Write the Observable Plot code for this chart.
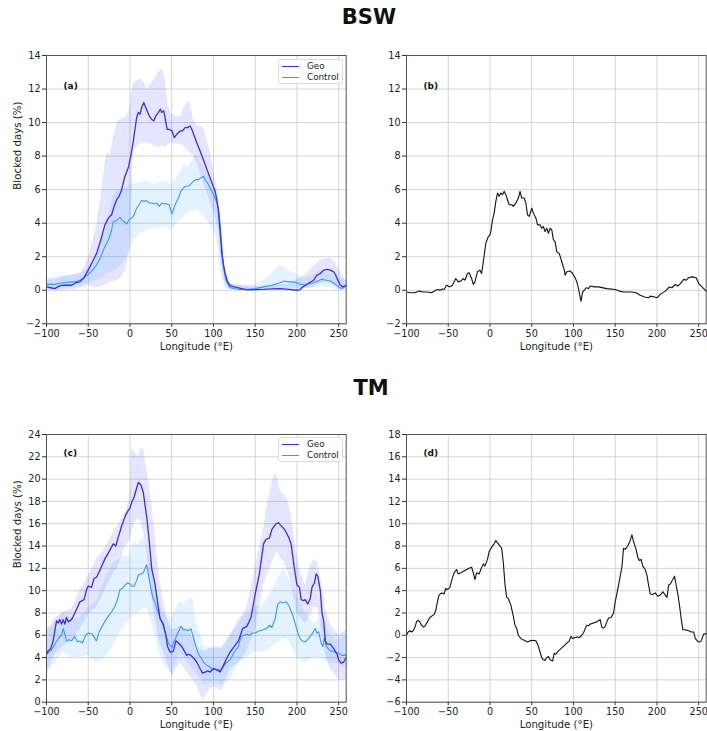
<!DOCTYPE html>
<html>
<head>
<meta charset="utf-8">
<script src="https://cdn.jsdelivr.net/npm/d3@7"></script>
<script src="https://cdn.jsdelivr.net/npm/@observablehq/plot@0.6"></script>
<style>
  body { margin: 0; background: #fff; font-family: "DejaVu Sans", sans-serif; }
  #wrap { position: relative; width: 707px; height: 731px; overflow: hidden; }
  .panel { position: absolute; }
  .title { position: absolute; font-weight: bold; font-size: 21px; color: #111; transform: translate(-50%, -50%); white-space: nowrap; }
  .legend { position: absolute; width: 65px; height: 25px; border: 1px solid #dcdcdc; border-radius: 3px; background: #fff; font-size: 8.8px; color: #222; box-sizing: border-box; }
  .legend .row { position: absolute; left: 0; height: 11px; line-height: 11px; }
  .legend .sw { position: absolute; left: 3px; top: 5px; width: 17px; height: 0; border-top: 1.3px solid; }
  .legend .lb { position: absolute; left: 28px; top: 0; white-space: nowrap; }
</style>
</head>
<body>
<div id="wrap"></div>
<script>
// ---------------- DATA ----------------
const titles = ["BSW", "TM"];
const panelLabels = ["(a)", "(b)", "(c)", "(d)"];
const seriesNames = ["Geo", "Control"];
const xLabel = "Longitude (°E)";
const yLabel = "Blocked days (%)";
const xTicks = [-100, -50, 0, 50, 100, 150, 200, 250];
const yTicksTop = [-2, 0, 2, 4, 6, 8, 10, 12, 14];
const yTicksC = [0, 2, 4, 6, 8, 10, 12, 14, 16, 18, 20, 22, 24];
const yTicksD = [-6, -4, -2, 0, 2, 4, 6, 8, 10, 12, 14, 16, 18];

// Panel (a): BSW, Geo mean [lon, value]
const aGeo = [[-100,0.2],[-95,0.15],[-90,0.1],[-85,0.25],[-80,0.3],[-75,0.3],[-70,0.3],[-65,0.45],[-60,0.5],[-55,0.75],[-50,1.2],[-45,1.7],[-40,2.2],[-35,3.0],[-30,3.9],[-26,4.3],[-22,4.5],[-19,5.0],[-16,5.4],[-13,5.6],[-10,6.0],[-6,6.8],[-2,7.3],[1,8.0],[4,8.9],[8,10.3],[10,10.6],[12,10.5],[14,10.9],[16.5,11.2],[18,11.0],[20.5,10.7],[23,10.4],[26,10.2],[28.5,10.1],[31,10.4],[34,10.6],[36.5,10.8],[38,10.6],[40.5,10.7],[42,10.3],[44.5,9.6],[47,9.6],[50.5,9.5],[53,9.1],[56,9.3],[60,9.5],[63,9.5],[66,9.7],[69,9.7],[72,9.8],[74,9.6],[77,9.2],[80,8.8],[84,8.3],[87,7.9],[90,7.5],[93,7.1],[96,6.7],[99,6.3],[102,5.9],[104,5.4],[106,4.7],[108,3.5],[110,2.2],[112,1.5],[114,1.0],[117,0.5],[120,0.28],[125,0.2],[130,0.14],[135,0.08],[140,0.02],[150,0.04],[160,0.05],[170,0.08],[180,0.1],[190,0.05],[200,0.0],[203,0.02],[206,0.15],[210,0.3],[215,0.45],[220,0.6],[224,0.9],[228,1.0],[232,1.2],[236,1.25],[240,1.2],[244,1.1],[246,0.95],[248,0.7],[250,0.5],[252,0.3],[255,0.2],[259,0.3]];
// Panel (a): Control mean
const aCtl = [[-100,0.35],[-90,0.35],[-80,0.45],[-70,0.5],[-65,0.5],[-60,0.6],[-55,0.75],[-50,0.95],[-45,1.2],[-40,1.5],[-35,2.0],[-30,2.6],[-25,3.1],[-22,3.6],[-20,4.1],[-17,4.15],[-15,4.2],[-12,4.35],[-10,4.2],[-7,4.1],[-4,3.95],[-1,4.2],[2,4.3],[5,4.5],[8,4.9],[11,5.1],[14,5.35],[17,5.3],[20,5.35],[23,5.2],[26,5.2],[29,5.15],[32,5.2],[35,5.0],[38,5.2],[41,5.15],[44,5.15],[47,5.1],[50,4.55],[52,4.8],[55,5.2],[58,5.5],[61,5.9],[64,6.1],[67,6.2],[70,6.2],[73,6.35],[76,6.5],[79,6.6],[82,6.6],[85,6.7],[88,6.8],[90,6.6],[93,6.4],[96,6.1],[99,5.8],[102,5.5],[105,5.1],[107,4.5],[109,3.3],[111,2.0],[113,1.1],[115,0.6],[118,0.3],[120,0.15],[130,0.05],[140,0.05],[150,0.1],[160,0.2],[170,0.3],[180,0.45],[185,0.55],[190,0.5],[195,0.5],[200,0.45],[205,0.35],[210,0.3],[215,0.4],[220,0.45],[225,0.55],[230,0.65],[235,0.6],[240,0.55],[245,0.4],[250,0.2],[253,0.1],[256,0.15],[259,0.3]];
// Panel (a): Geo spread [lon, lower, upper]
const aGeoBand = [[-100,0.0,0.6],[-90,0.0,0.65],[-80,0.0,0.8],[-70,0.05,0.9],[-60,0.1,1.0],[-55,0.2,1.3],[-50,0.3,1.9],[-45,0.2,2.8],[-40,0.15,3.8],[-35,0.2,5.5],[-30,0.3,7.5],[-27,0.4,8.3],[-24,0.5,8.0],[-20,0.5,9.0],[-15,0.6,10.1],[-10,0.8,10.2],[-5,1.2,10.3],[-2,2.0,10.6],[0,2.5,11.0],[2,5.0,11.8],[4,8.3,12.3],[8,8.5,12.5],[12,8.7,12.6],[16,8.8,12.5],[20,8.8,12.0],[25,8.7,12.3],[30,8.6,12.6],[34,8.5,13.0],[38,8.6,13.2],[42,8.5,12.7],[46,8.7,11.0],[50,8.8,10.5],[55,8.7,10.4],[60,8.7,10.3],[64,8.6,10.8],[68,8.4,11.2],[72,8.2,11.2],[76,8.0,10.2],[80,7.6,9.8],[84,7.0,9.8],[88,6.3,9.7],[92,5.9,9.0],[96,5.3,8.3],[100,4.7,7.2],[103,4.2,6.5],[106,3.6,5.5],[108,2.7,4.5],[110,1.4,3.0],[112,0.8,2.0],[115,0.3,1.2],[118,0.1,0.6],[122,0.05,0.35],[130,0.02,0.3],[150,0.0,0.2],[170,0.0,0.3],[190,0.0,0.35],[200,0.0,0.6],[205,0.05,0.8],[210,0.1,0.9],[220,0.2,1.4],[228,0.4,1.8],[235,0.5,1.9],[240,0.4,1.9],[245,0.3,1.7],[250,0.1,1.3],[255,0.0,0.8],[259,0.1,0.6]];
// Panel (a): Control spread [lon, lower, upper]
const aCtlBand = [[-100,0.0,0.7],[-90,0.05,0.75],[-80,0.1,0.85],[-70,0.15,0.9],[-60,0.25,1.0],[-50,0.4,1.3],[-40,0.6,2.0],[-35,0.7,2.8],[-30,0.9,3.5],[-25,1.0,4.5],[-20,1.1,5.6],[-15,1.3,6.0],[-10,1.5,6.0],[-5,1.9,6.1],[0,2.4,6.3],[5,3.0,6.4],[10,3.3,6.4],[20,3.6,6.5],[30,3.7,6.3],[40,3.8,6.5],[50,3.6,6.3],[55,3.9,6.7],[60,4.2,7.0],[65,4.4,7.5],[70,4.6,7.4],[75,4.7,7.8],[80,4.8,8.0],[85,4.6,7.6],[90,4.3,7.2],[95,4.0,6.8],[100,3.6,6.3],[103,3.2,5.9],[106,2.6,5.3],[108,1.6,4.4],[110,0.8,3.0],[113,0.3,1.5],[116,0.05,0.7],[120,0.0,0.35],[130,0.0,0.3],[150,0.0,0.35],[160,0.05,0.6],[170,0.1,1.0],[180,0.15,1.5],[185,0.15,1.4],[190,0.15,1.2],[200,0.1,0.9],[210,0.1,0.7],[220,0.15,0.9],[230,0.2,1.2],[240,0.15,1.0],[250,0.0,0.7],[259,0.1,0.6]];

// Panel (b): BSW difference [lon, value]
const bDiff = [[-100,-0.1],[-95,-0.15],[-90,-0.15],[-85,-0.05],[-80,-0.1],[-75,-0.1],[-70,-0.15],[-65,0.0],[-62,0.05],[-60,0.0],[-57,0.08],[-55,0.05],[-52,0.3],[-48,0.2],[-45,0.3],[-41,0.7],[-38,0.5],[-35,0.55],[-32,0.7],[-30,0.6],[-27,1.0],[-25,1.05],[-22,0.7],[-20,0.35],[-18,0.5],[-15,1.1],[-12,1.2],[-10,1.0],[-8,1.7],[-5,2.8],[-2,3.2],[0,3.3],[1,3.5],[3,4.2],[5,4.6],[7,5.3],[9,5.8],[11,5.6],[13,5.8],[15,5.7],[17,5.9],[19,5.7],[21,5.4],[23,5.1],[26,5.1],[28,5.0],[31,5.2],[34,5.5],[36,5.9],[38,5.5],[41,5.5],[43,5.2],[45,4.5],[47,4.4],[50,4.9],[52,4.6],[55,4.3],[57,3.9],[60,3.9],[62,3.7],[64,3.8],[66,3.5],[68,3.7],[70,3.4],[72,3.7],[74,3.6],[76,3.0],[78,2.9],[80,2.3],[83,2.2],[86,1.7],[89,1.2],[90,0.9],[92,1.1],[96,1.15],[99,1.0],[102,0.75],[104,0.5],[106,0.1],[108,-0.4],[109,-0.65],[111,-0.1],[113,0.0],[115,0.15],[118,0.1],[120,0.25],[125,0.2],[130,0.2],[140,0.1],[150,0.05],[155,-0.05],[160,-0.1],[170,-0.1],[175,-0.15],[180,-0.3],[185,-0.4],[190,-0.45],[192,-0.35],[197,-0.4],[200,-0.45],[205,-0.2],[210,-0.05],[215,0.2],[218,0.15],[222,0.35],[225,0.25],[228,0.4],[232,0.65],[235,0.6],[238,0.75],[242,0.8],[247,0.75],[250,0.4],[254,0.2],[259,-0.05]];

// Panel (c): TM, Geo mean
const cGeo = [[-100,4.3],[-98,4.6],[-95,4.8],[-92,5.5],[-90,6.4],[-88,7.3],[-86,7.1],[-84,7.4],[-82,7.0],[-80,7.4],[-78,7.0],[-76,7.6],[-74,7.2],[-70,7.4],[-66,8.0],[-60,9.0],[-55,9.2],[-52,10.1],[-50,10.4],[-46,10.3],[-43,11.1],[-40,11.2],[-35,12.0],[-30,12.85],[-25,13.5],[-20,14.2],[-17,14.0],[-14,14.8],[-10,15.8],[-5,16.8],[-2,17.2],[0,17.4],[2,17.9],[5,18.4],[8,19.2],[10,19.7],[13,19.5],[16,18.8],[20,16.6],[23,14.5],[26,12.0],[30,10.6],[33,9.0],[36,7.5],[40,7.0],[43,6.0],[45,5.0],[48,4.5],[50,4.5],[52,4.6],[55,5.5],[58,5.3],[62,5.0],[65,4.6],[68,4.2],[70,4.3],[73,4.2],[78,3.8],[80,3.6],[84,3.0],[87,2.6],[90,2.7],[93,2.8],[96,2.7],[100,3.0],[105,2.9],[108,2.7],[112,3.3],[115,3.8],[120,4.5],[125,5.0],[130,5.5],[135,6.6],[140,6.8],[145,7.6],[150,9.7],[155,11.5],[160,14.2],[163,14.6],[167,14.7],[170,15.5],[175,16.0],[178,16.1],[180,15.9],[185,15.5],[190,14.8],[193,14.2],[196,12.5],[200,10.5],[203,10.3],[205,9.2],[208,9.1],[210,9.2],[213,8.8],[216,9.3],[218,10.3],[221,10.7],[223,11.5],[225,11.3],[228,10.0],[230,8.0],[232,7.3],[234,5.5],[236,5.2],[240,5.2],[244,4.8],[248,4.3],[250,3.8],[253,3.5],[256,3.6],[259,4.0]];
// Panel (c): Control mean
const cCtl = [[-100,4.3],[-95,4.6],[-90,5.2],[-85,5.8],[-82,6.0],[-80,6.6],[-78,6.1],[-76,5.5],[-73,5.6],[-70,5.5],[-66,5.9],[-63,5.4],[-60,5.5],[-57,5.3],[-53,6.0],[-50,6.2],[-45,6.1],[-42,5.7],[-40,5.5],[-37,6.3],[-32,7.0],[-27,7.6],[-22,8.1],[-18,8.6],[-15,9.2],[-12,10.1],[-9,10.2],[-6,10.5],[-3,10.7],[0,10.6],[2,10.4],[5,10.4],[8,10.9],[10,11.4],[13,11.5],[16,11.6],[19,12.2],[20,12.3],[22,11.5],[24,10.6],[27,9.5],[30,8.9],[33,8.2],[36,7.6],[40,6.8],[43,6.0],[46,5.3],[50,4.9],[52,5.3],[55,5.8],[58,6.3],[61,6.8],[64,6.5],[67,6.5],[70,6.4],[73,6.6],[76,5.8],[79,5.0],[82,4.3],[85,4.0],[88,3.6],[92,3.3],[95,3.2],[98,3.0],[100,3.0],[103,2.9],[105,2.8],[108,2.9],[110,3.0],[115,3.5],[120,3.8],[125,4.5],[130,5.0],[133,5.9],[137,6.0],[140,6.1],[143,6.0],[146,6.2],[150,6.2],[155,6.4],[160,6.5],[165,6.7],[167,6.9],[170,6.7],[174,7.5],[177,8.8],[180,9.0],[183,8.9],[187,9.0],[190,8.7],[195,7.8],[200,6.5],[203,5.8],[206,5.5],[210,5.4],[214,5.7],[218,6.1],[222,6.6],[224,6.2],[226,6.3],[229,5.3],[231,5.0],[233,5.8],[235,5.0],[240,4.6],[245,4.5],[250,4.4],[254,4.2],[259,4.2]];
// Panel (c): Geo spread [lon, lower, upper]
const cGeoBand = [[-100,2.5,6.5],[-95,3.5,6.8],[-90,4.3,7.5],[-80,5.0,8.1],[-70,5.5,8.3],[-60,6.5,10.0],[-50,7.8,11.3],[-45,8.2,12.0],[-40,8.5,12.8],[-30,10.0,13.8],[-20,11.5,15.2],[-15,12.0,15.8],[-10,13.0,16.5],[-5,14.0,17.0],[0,14.5,18.5],[2,15.2,22.8],[5,16.0,22.5],[10,16.5,22.0],[13,16.2,22.8],[17,15.0,22.5],[20,13.5,21.0],[25,10.0,18.5],[30,7.5,15.0],[35,5.5,11.5],[40,4.5,9.0],[45,3.5,7.5],[50,2.3,6.5],[55,3.0,6.6],[60,3.5,6.8],[70,2.5,6.5],[80,1.5,5.0],[85,0.5,4.7],[88,0.2,4.6],[90,0.5,4.5],[95,1.0,4.8],[100,1.4,5.0],[110,1.0,4.8],[115,2.0,5.3],[120,3.0,6.0],[130,3.5,7.0],[140,4.5,8.5],[150,6.5,12.0],[160,10.5,15.5],[165,11.5,18.0],[170,12.5,19.5],[173,13.0,20.5],[176,13.5,20.3],[180,13.0,19.0],[185,12.5,18.5],[190,11.5,18.0],[195,10.0,16.0],[200,8.0,13.0],[205,7.5,11.5],[210,7.0,10.5],[215,7.5,12.0],[220,8.5,12.8],[225,8.5,12.5],[230,6.0,10.5],[235,4.0,8.0],[240,3.0,7.0],[250,2.0,6.0],[259,2.0,6.5]];
// Panel (c): Control spread [lon, lower, upper]
const cCtlBand = [[-100,2.5,6.5],[-90,3.5,7.0],[-80,4.5,8.0],[-70,4.0,7.5],[-60,4.0,7.5],[-50,4.2,8.5],[-40,3.5,9.0],[-30,4.0,11.0],[-20,5.0,12.5],[-10,6.5,13.0],[0,7.5,13.2],[5,7.8,14.5],[10,8.0,14.0],[15,8.3,14.8],[20,8.5,14.0],[25,7.5,12.5],[30,6.0,11.0],[35,4.5,9.0],[40,3.5,8.0],[45,3.0,7.7],[50,2.5,7.5],[55,3.5,8.3],[60,4.5,9.0],[65,4.0,8.8],[70,3.5,9.2],[75,3.0,9.3],[80,2.5,7.0],[90,1.5,5.0],[100,1.8,4.8],[110,1.5,5.0],[120,2.0,6.0],[130,3.5,7.5],[140,4.0,8.0],[150,4.5,8.5],[160,4.5,8.8],[170,5.0,10.0],[180,5.5,11.5],[185,5.7,12.0],[190,5.5,11.0],[200,4.0,9.5],[210,3.5,8.0],[220,4.0,7.0],[230,4.0,7.5],[240,3.5,6.0],[250,3.5,5.5],[259,3.0,6.0]];

// Panel (d): TM difference [lon, value]
const dDiff = [[-100,0.0],[-98,0.3],[-96,0.4],[-94,0.3],[-92,0.4],[-90,0.7],[-88,1.2],[-86,1.35],[-84,1.2],[-82,0.9],[-80,0.75],[-78,0.8],[-75,1.2],[-72,1.6],[-70,1.7],[-67,1.85],[-65,2.2],[-63,3.0],[-61,3.6],[-58,3.8],[-55,3.7],[-53,4.2],[-51,4.1],[-48,4.3],[-46,4.9],[-43,5.6],[-40,5.9],[-38,5.5],[-35,5.6],[-30,5.8],[-25,6.0],[-22,6.1],[-20,5.6],[-18,5.0],[-16,5.6],[-13,5.5],[-11,5.9],[-8,6.4],[-6,6.2],[-3,6.8],[-1,7.5],[2,7.9],[5,8.2],[7,8.5],[10,8.2],[14,7.8],[16,6.5],[18,4.5],[20,3.4],[22,3.3],[25,2.7],[28,1.7],[30,0.9],[32,0.6],[34,0.0],[37,-0.3],[42,-0.5],[45,-0.6],[48,-0.5],[52,-0.45],[55,-0.5],[57,-0.8],[60,-1.5],[62,-2.0],[64,-2.2],[66,-2.25],[68,-2.0],[70,-1.9],[72,-2.2],[75,-2.3],[77,-1.6],[79,-1.7],[82,-1.4],[85,-1.2],[88,-1.0],[92,-0.7],[95,-0.5],[97,-0.1],[99,-0.3],[102,-0.2],[104,-0.15],[107,-0.2],[110,0.0],[112,0.2],[114,0.6],[116,0.9],[118,0.85],[120,1.0],[124,1.1],[128,1.2],[130,1.3],[132,1.4],[134,0.7],[136,0.65],[138,0.8],[140,1.2],[142,1.55],[145,1.6],[148,2.0],[150,3.0],[154,4.5],[158,6.1],[160,7.8],[162,7.7],[165,8.0],[168,8.5],[170,9.0],[172,8.4],[175,7.7],[177,7.0],[179,6.7],[181,6.8],[183,6.2],[186,5.9],[188,5.4],[190,4.5],[192,3.7],[195,3.65],[198,3.8],[201,3.5],[204,3.6],[207,3.9],[210,3.6],[212,3.4],[214,4.5],[216,4.6],[219,5.0],[221,5.3],[222,4.9],[225,3.7],[227,2.7],[229,1.5],[231,0.5],[234,0.5],[238,0.4],[241,0.3],[244,0.3],[246,-0.3],[249,-0.55],[251,-0.6],[253,-0.5],[256,0.1],[259,0.15]];

// ---------------- STYLE ----------------
const geoColor = "#3a2ee8";
const ctlColor = "#3399ff";
const geoFill = "#0000ff";
const ctlFill = "#1e90ff";
const xDomain = [-100, 259];

const wrap = document.getElementById("wrap");

function panel({left, top, width, height, marginTop, marginBottom, marginRight, yDomain, yTicks, showYLabel, label, labelDy, geo, ctl, geoBand, ctlBand, diff}) {
  const marks = [
    Plot.gridX(xTicks, {stroke: "#c9c9c9", strokeOpacity: 1, strokeWidth: 0.8}),
    Plot.gridY(yTicks, {stroke: "#c9c9c9", strokeOpacity: 1, strokeWidth: 0.8})
  ];
  if (geoBand) marks.push(Plot.areaY(geoBand, {x: d => d[0], y1: d => d[1], y2: d => d[2], fill: geoFill, fillOpacity: 0.1, curve: "linear"}));
  if (ctlBand) marks.push(Plot.areaY(ctlBand, {x: d => d[0], y1: d => d[1], y2: d => d[2], fill: ctlFill, fillOpacity: 0.12, curve: "linear"}));
  if (ctl) marks.push(Plot.line(ctl, {x: d => d[0], y: d => d[1], stroke: ctlColor, strokeWidth: 1.1}));
  if (geo) marks.push(Plot.line(geo, {x: d => d[0], y: d => d[1], stroke: geoColor, strokeWidth: 1.3}));
  if (diff) marks.push(Plot.line(diff, {x: d => d[0], y: d => d[1], stroke: "#111", strokeWidth: 1.1}));
  marks.push(
    Plot.axisX(xTicks, {tickSize: 3.5, tickPadding: 2.5, label: null, fontSize: 9.6, stroke: "#333", fill: "#222"}),
    Plot.axisY(yTicks, {tickSize: 4, tickPadding: 2, label: null, fontSize: 9.6, stroke: "#333", fill: "#222"}),
    Plot.frame({stroke: "#555", strokeWidth: 1}),
    Plot.text([xLabel], {text: d => d, frameAnchor: "bottom", dy: 22.5, lineAnchor: "middle", fontSize: 10.2, fill: "#222"}),
    Plot.text([label], {text: d => d, frameAnchor: "top-left", dx: 17, dy: labelDy, fontWeight: "bold", fontSize: 9, textAnchor: "start", lineAnchor: "middle", fill: "#111"})
  );
  if (showYLabel) marks.push(Plot.text([yLabel], {text: d => d, frameAnchor: "left", dx: -29, rotate: -90, lineAnchor: "middle", fontSize: 10.2, fill: "#222"}));
  const chart = Plot.plot({
    width, height,
    marginLeft: 46, marginRight, marginTop, marginBottom,
    style: {fontFamily: "DejaVu Sans, sans-serif", fontSize: "10px", color: "#222", background: "transparent", overflow: "visible"},
    x: {domain: xDomain},
    y: {domain: yDomain},
    marks
  });
  chart.classList.add("panel");
  chart.style.left = left + "px";
  chart.style.top = top + "px";
  wrap.appendChild(chart);
}

function legend(left, top) {
  const box = document.createElement("div");
  box.className = "legend";
  box.style.left = left + "px";
  box.style.top = top + "px";
  [[seriesNames[0], geoColor, 0.5], [seriesNames[1], ctlColor, 11.5]].forEach(([name, color, y]) => {
    const row = document.createElement("div");
    row.className = "row";
    row.style.top = y + "px";
    const sw = document.createElement("span");
    sw.className = "sw";
    sw.style.borderTopColor = color;
    const lb = document.createElement("span");
    lb.className = "lb";
    lb.textContent = name;
    row.appendChild(sw); row.appendChild(lb);
    box.appendChild(row);
  });
  wrap.appendChild(box);
}

function title(text, x, y) {
  const t = document.createElement("div");
  t.className = "title";
  t.textContent = text;
  t.style.left = x + "px";
  t.style.top = y + "px";
  wrap.appendChild(t);
}

title(titles[0], 369, 17);
title(titles[1], 371, 388);

panel({left: 0, top: 40, width: 355, height: 315, marginTop: 15, marginBottom: 31.7, marginRight: 9.3,
  yDomain: [-2, 14], yTicks: yTicksTop, showYLabel: true, label: panelLabels[0], labelDy: 31,
  geo: aGeo, ctl: aCtl, geoBand: aGeoBand, ctlBand: aCtlBand});
panel({left: 360, top: 40, width: 347, height: 315, marginTop: 15, marginBottom: 31.7, marginRight: 1.3,
  yDomain: [-2, 14], yTicks: yTicksTop, showYLabel: false, label: panelLabels[1], labelDy: 31,
  diff: bDiff});
panel({left: 0, top: 420, width: 355, height: 311, marginTop: 14, marginBottom: 29.3, marginRight: 9.3,
  yDomain: [0, 24], yTicks: yTicksC, showYLabel: true, label: panelLabels[2], labelDy: 19,
  geo: cGeo, ctl: cCtl, geoBand: cGeoBand, ctlBand: cCtlBand});
panel({left: 360, top: 420, width: 347, height: 311, marginTop: 14, marginBottom: 29.3, marginRight: 1.3,
  yDomain: [-6, 18], yTicks: yTicksD, showYLabel: false, label: panelLabels[3], labelDy: 19,
  diff: dDiff});

legend(278, 59);
legend(278, 437);
</script>
</body>
</html>
